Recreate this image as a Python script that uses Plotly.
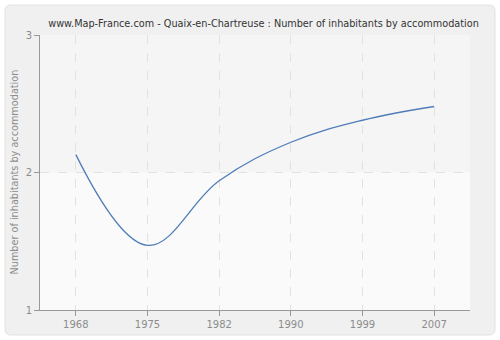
import plotly.graph_objects as go

years = ["1968", "1975", "1982", "1990", "1999", "2007"]
values = [2.13, 1.47, 1.94, 2.22, 2.38, 2.48]
y_ticks = [1, 2, 3]
title = "www.Map-France.com - Quaix-en-Chartreuse : Number of inhabitants by accommodation"
y_title = "Number of inhabitants by accommodation"

L, R, T, B = 40, 30, 35, 30
W, H = 500, 340
pw, ph = W - L - R, H - T - B

def px(x):
    return (x - L) / pw

def py(y):
    return (H - B - y) / ph

x0, x1, y0, y1 = px(5), px(495), py(335), py(5)
r = 6 / pw
rh = 6 / ph
path = (f"M {x0+r},{y0} L {x1-r},{y0} Q {x1},{y0} {x1},{y0+rh} L {x1},{y1-rh} "
        f"Q {x1},{y1} {x1-r},{y1} L {x0+r},{y1} Q {x0},{y1} {x0},{y1-rh} "
        f"L {x0},{y0+rh} Q {x0},{y0} {x0+r},{y0} Z")

fig = go.Figure()
fig.add_trace(go.Scatter(
    x=years, y=values, mode="lines",
    line=dict(color="#4f7db8", width=1.3, shape="spline", smoothing=1.1),
    hoverinfo="skip", showlegend=False,
))

shapes = [
    dict(type="path", path=path, xref="paper", yref="paper", layer="below",
         fillcolor="#f0f0f0", line=dict(color="#e2e2e2", width=1)),
    dict(type="rect", x0=0, x1=1, y0=0, y1=1, xref="paper", yref="paper",
         layer="below", fillcolor="#fafafa", line=dict(width=0)),
    dict(type="rect", x0=0, x1=1, y0=0.5, y1=1, xref="paper", yref="paper",
         layer="below", fillcolor="#f5f5f5", line=dict(width=0)),
]

fig.update_layout(
    width=W, height=H,
    margin=dict(l=L, r=R, t=T, b=B, autoexpand=False),
    paper_bgcolor="white", plot_bgcolor="rgba(0,0,0,0)",
    font=dict(family="DejaVu Sans, Verdana, sans-serif", size=10, color="#888888"),
    title=dict(text=title, x=0.527, xanchor="center", y=0.93, yanchor="middle",
               font=dict(size=9.7, color="#333333")),
    shapes=shapes,
    annotations=[dict(text=y_title, xref="paper", yref="paper", x=px(14), y=0.5,
                      xanchor="center", yanchor="middle", textangle=-90,
                      showarrow=False, font=dict(size=9.7, color="#8c8c8c"))],
    xaxis=dict(
        type="category", range=[-0.5, 5.5], automargin=False,
        showgrid=True, gridcolor="#e2e2e2", griddash="dash", gridwidth=1,
        showline=True, linecolor="#999999", linewidth=1,
        ticks="outside", ticklen=5, tickcolor="#999999",
        tickfont=dict(size=10, color="#8c8c8c"), zeroline=False, fixedrange=True,
    ),
    yaxis=dict(
        range=[1, 3], tickvals=y_ticks, automargin=False,
        showgrid=True, gridcolor="#e2e2e2", griddash="dash", gridwidth=1,
        showline=True, linecolor="#999999", linewidth=1,
        ticks="outside", ticklen=5, tickcolor="#999999",
        tickfont=dict(size=10, color="#8c8c8c"), zeroline=False,
        fixedrange=True,
    ),
)

fig.write_html("out.html")
